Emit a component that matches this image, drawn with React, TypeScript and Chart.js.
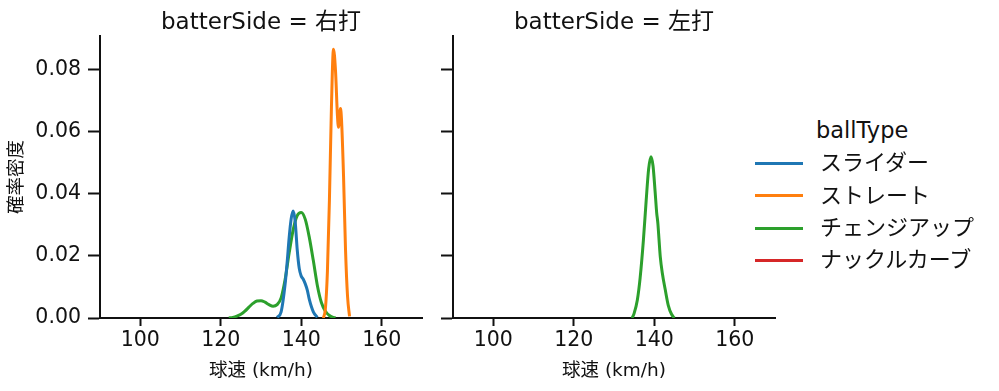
import React, { useEffect, useRef } from "react";
import { Chart, registerables } from "chart.js";

Chart.register(...registerables);

const FONT = '"DejaVu Sans", "Noto Sans CJK JP", sans-serif';
const INK = "#111111";

const ballTypes = ["スライダー", "ストレート", "チェンジアップ", "ナックルカーブ"];
const colors = ["#1f77b4", "#ff7f0e", "#2ca02c", "#d62728"];
const panelTitles = ["batterSide = 右打", "batterSide = 左打"];
const legendTitle = "ballType";
const xTicks = [100, 120, 140, 160];
const yTicks = [0, 0.02, 0.04, 0.06, 0.08];
const xLabel = "球速 (km/h)";
const yLabel = "確率密度";

// 右打 — スライダー
const rSliderX = [134, 135, 136, 136.5, 137, 137.5, 138, 138.5, 139, 139.5, 140, 140.5, 141, 141.5, 142, 143, 144];
const rSliderY = [0.0002, 0.002, 0.011, 0.018, 0.026, 0.032, 0.0345, 0.031, 0.022, 0.016, 0.0135, 0.0125, 0.011, 0.009, 0.006, 0.002, 0.0002];

// 右打 — ストレート
const rStraightX = [145.5, 146, 146.5, 147, 147.5, 148, 148.5, 149, 149.25, 149.75, 150, 150.5, 151, 151.5, 152];
const rStraightY = [0, 0.003, 0.015, 0.038, 0.068, 0.0866, 0.08, 0.065, 0.0615, 0.0675, 0.064, 0.046, 0.022, 0.007, 0.0005];

// 右打 — チェンジアップ
const rChangeX = [122, 123, 124, 125, 126, 127, 128, 129, 130, 131, 132, 133, 134, 135, 136, 137, 138, 139, 140, 141, 142, 143, 144, 145, 146, 147, 148, 148.5];
const rChangeY = [0, 0.0002, 0.0006, 0.0012, 0.0022, 0.0035, 0.0047, 0.0055, 0.0056, 0.0051, 0.0043, 0.0038, 0.0043, 0.0065, 0.0125, 0.021, 0.0285, 0.033, 0.034, 0.0318, 0.026, 0.0185, 0.0105, 0.005, 0.0022, 0.0008, 0.0002, 0];

// 左打 — チェンジアップ
const lChangeX = [134.5, 135, 135.8, 136.5, 137.3, 138, 138.6, 139.2, 139.7, 140.2, 140.6, 140.9, 141.2, 141.5, 142, 142.75, 143.5, 144.3, 145];
const lChangeY = [0, 0.0015, 0.0058, 0.013, 0.025, 0.038, 0.048, 0.052, 0.049, 0.041, 0.034, 0.0305, 0.025, 0.0197, 0.0145, 0.009, 0.004, 0.0012, 0];

const X_MIN = 90;
const X_MAX = 170;
const Y_MIN = 0;
const Y_MAX = 0.0909;

type Series = { xs: number[]; ys: number[]; color: string; label: string };

const leftSeries: Series[] = [
  { xs: rSliderX, ys: rSliderY, color: colors[0], label: ballTypes[0] },
  { xs: rStraightX, ys: rStraightY, color: colors[1], label: ballTypes[1] },
  { xs: rChangeX, ys: rChangeY, color: colors[2], label: ballTypes[2] },
];
const rightSeries: Series[] = [
  { xs: lChangeX, ys: lChangeY, color: colors[2], label: ballTypes[2] },
];

function Panel(props: {
  series: Series[];
  left: number;
  width: number;
  yAxisWidth: number;
  padRight: number;
  showYLabels: boolean;
}) {
  const ref = useRef<HTMLCanvasElement | null>(null);
  useEffect(() => {
    if (!ref.current) return;
    const chart = new Chart(ref.current, {
      type: "line",
      data: {
        datasets: props.series.map((s) => ({
          label: s.label,
          data: s.xs.map((x, i) => ({ x, y: s.ys[i] })),
          borderColor: s.color,
          backgroundColor: s.color,
          borderWidth: 3,
          pointRadius: 0,
          fill: false,
          cubicInterpolationMode: "monotone" as const,
        })),
      },
      options: {
        animation: false,
        responsive: false,
        maintainAspectRatio: false,
        layout: { padding: { top: 36, right: props.padRight, bottom: 0, left: 0 } },
        plugins: { legend: { display: false }, tooltip: { enabled: false }, title: { display: false } },
        scales: {
          x: {
            type: "linear",
            min: X_MIN,
            max: X_MAX,
            afterBuildTicks: (s: any) => {
              s.ticks = xTicks.map((v) => ({ value: v }));
            },
            afterFit: (s: any) => {
              s.height = 73;
            },
            ticks: {
              font: { family: FONT, size: 20.5 },
              color: INK,
              padding: 2,
              maxRotation: 0,
              callback: (v: any) => String(v),
            },
            grid: {
              display: true,
              drawOnChartArea: false,
              drawTicks: true,
              tickLength: 8,
              tickWidth: 2,
              tickColor: INK,
            },
            border: { display: true, color: INK, width: 2 },
            title: {
              display: true,
              text: xLabel,
              color: INK,
              font: { family: FONT, size: 18.5 },
              padding: { top: 0, bottom: 9 },
            },
          },
          y: {
            type: "linear",
            min: Y_MIN,
            max: Y_MAX,
            afterBuildTicks: (s: any) => {
              s.ticks = yTicks.map((v) => ({ value: v }));
            },
            afterFit: (s: any) => {
              s.width = props.yAxisWidth;
            },
            ticks: {
              font: { family: FONT, size: 20.5 },
              color: INK,
              padding: 7,
              callback: (v: any) => (props.showYLabels ? Number(v).toFixed(2) : ""),
            },
            grid: {
              display: true,
              drawOnChartArea: false,
              drawTicks: true,
              tickLength: 12,
              tickWidth: 2,
              tickColor: INK,
            },
            border: { display: true, color: INK, width: 2 },
            title: {
              display: props.showYLabels,
              text: yLabel,
              color: INK,
              font: { family: FONT, size: 18.5 },
              padding: { top: 6, bottom: 0 },
            },
          },
        },
      },
    });
    return () => chart.destroy();
  }, []);
  return (
    <canvas
      ref={ref}
      width={props.width}
      height={391}
      style={{ position: "absolute", left: props.left, top: 0, width: props.width, height: 391 }}
    />
  );
}

const textStyle: React.CSSProperties = {
  position: "absolute",
  fontFamily: FONT,
  color: INK,
  whiteSpace: "nowrap",
};

export default function App() {
  const rowCenters = [163.3, 195.7, 228.3, 260.3];
  return (
    <div
      style={{
        position: "fixed",
        left: 0,
        top: 0,
        width: 999,
        height: 391,
        background: "#fff",
        overflow: "hidden",
      }}
    >
      <Panel series={leftSeries} left={0} width={440} yAxisWidth={100} padRight={18} showYLabels={true} />
      <Panel series={rightSeries} left={440} width={350} yAxisWidth={13} padRight={15} showYLabels={false} />
      <div style={{ ...textStyle, left: 100, width: 322, top: 4, height: 34, lineHeight: "34px", fontSize: 23, textAlign: "center" }}>
        {panelTitles[0]}
      </div>
      <div style={{ ...textStyle, left: 453, width: 322, top: 4, height: 34, lineHeight: "34px", fontSize: 23, textAlign: "center" }}>
        {panelTitles[1]}
      </div>
      <div style={{ ...textStyle, left: 816, top: 114, height: 32, lineHeight: "32px", fontSize: 22.5 }}>{legendTitle}</div>
      {ballTypes.map((b, i) => (
        <React.Fragment key={b}>
          <div
            style={{
              position: "absolute",
              left: 755,
              width: 48,
              top: rowCenters[i] - 1.5,
              height: 3,
              background: colors[i],
            }}
          />
          <div style={{ ...textStyle, left: 820, top: rowCenters[i] - 16, height: 32, lineHeight: "32px", fontSize: 22 }}>{b}</div>
        </React.Fragment>
      ))}
    </div>
  );
}
